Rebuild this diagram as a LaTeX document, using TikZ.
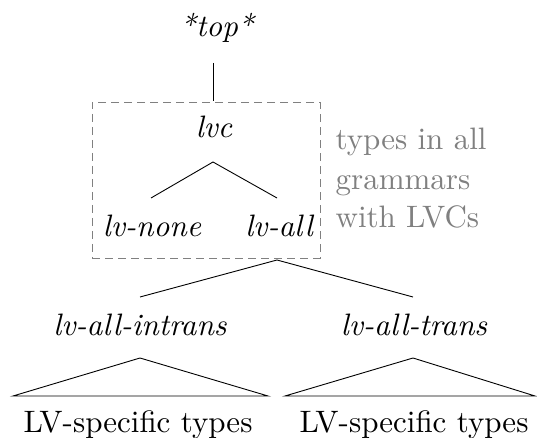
\documentclass[tikz,border=0pt]{standalone}
\begin{document}
\begin{tikzpicture}[x=1pt,y=1pt,
  lbl/.style={anchor=base,inner sep=0pt,font=\itshape,scale=3.1},
  plain/.style={anchor=base,inner sep=0pt,scale=3.1},
  note/.style={anchor=base west,inner sep=0pt,text=black!50,scale=3.1},
  edge/.style={draw=black,line width=0.9pt},
  group/.style={draw=black!50,line width=0.9pt,dash pattern=on 8pt off 5pt}]
\useasboundingbox (0,0) rectangle (537,438);
% nodes
\node[lbl] (top) at (217,401) {*top*};
\node[lbl] (lvc) at (214,300) {lvc};
\node[lbl] (none) at (152,201) {lv-none};
\node[lbl] (all) at (279,201) {lv-all};
\node[lbl] (intr) at (140,102) {lv-all-intrans};
\node[lbl] (tr) at (414,102) {lv-all-trans};
\node[plain] (spec1) at (138,6) {LV-specific types};
\node[plain] (spec2) at (414,6) {LV-specific types};
\node[note] (n1) at (335,288) {types in all};
\node[note] (n2) at (335,248) {grammars};
\node[note] (n3) at (335,210) {with LVCs};
% box
\node[group,inner sep=0pt,minimum width=228pt,minimum height=156pt] (box) at (206,258) {};
% tree points
\coordinate (topB) at (213,375);
\coordinate (lvcT) at (213,337);
\coordinate (lvcB) at (213,276);
\coordinate (noneT) at (151,240);
\coordinate (allT) at (277,240);
\coordinate (allB) at (277,178);
\coordinate (intrT) at (140,141);
\coordinate (trT) at (413,141);
\coordinate (intrB) at (140,80);
\coordinate (trB) at (413,80);
\coordinate (t1l) at (13,42);
\coordinate (t1r) at (268,42);
\coordinate (t2l) at (285,42);
\coordinate (t2r) at (535,42);
\draw[edge] (topB) -- (lvcT);
\draw[edge] (noneT) -- (lvcB) -- (allT);
\draw[edge] (intrT) -- (allB) -- (trT);
\draw[edge] (t1l) -- (intrB) -- (t1r) -- cycle;
\draw[edge] (t2l) -- (trB) -- (t2r) -- cycle;
\end{tikzpicture}
\end{document}
